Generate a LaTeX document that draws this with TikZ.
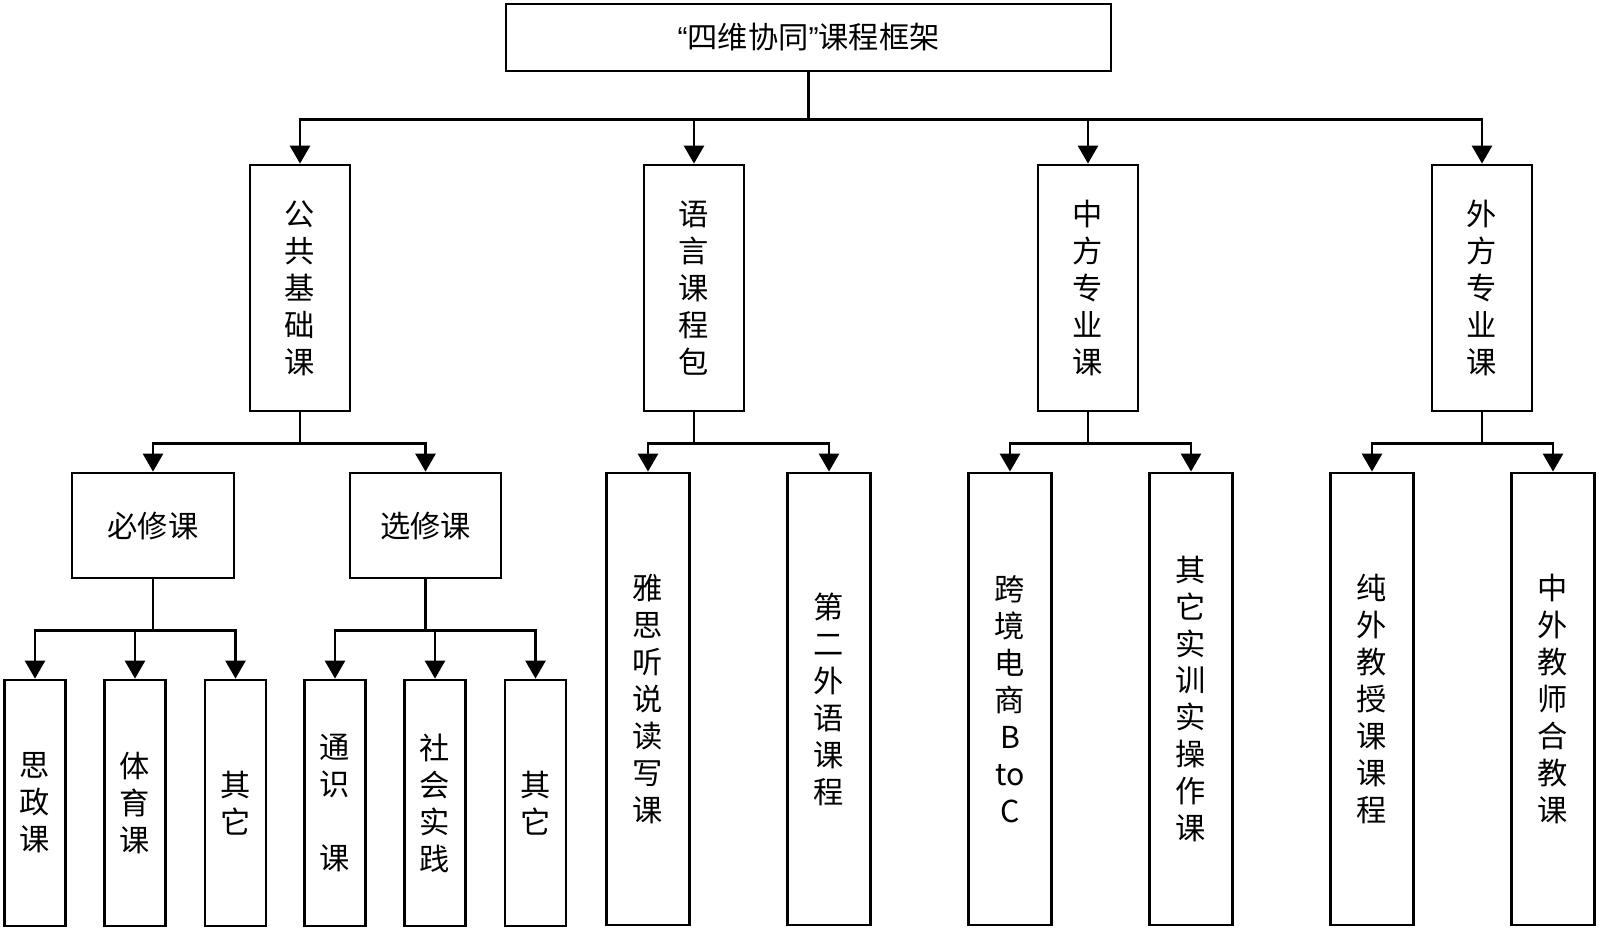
\documentclass[tikz,border=0pt]{standalone}
\usepackage{fontspec}
\setmainfont{Noto Sans CJK SC}
\newfontfamily\quotefont{Liberation Sans}
\usetikzlibrary{arrows.meta}
\begin{document}
\begin{tikzpicture}[x=0.025cm,y=-0.025cm,
  box/.style={draw,line width=1.9pt,inner sep=0pt,align=center,font=\fontsize{21.5}{26.3}\selectfont},
  arr/.style={line width=1.9pt,-{Triangle[width=0.5cm,length=0.45cm]}}]
\useasboundingbox (0,0) rectangle (1600,931);
% top
\node[box,minimum width=15.125cm,minimum height=1.675cm] (frame) at (808.5,37.5) {{\quotefont “}四维协同{\quotefont ”}课程框架};
% second row
\node[box,minimum width=2.5cm,minimum height=6.15cm] (pub) at (300,288) {公\\共\\基\\础\\课};
\node[box,minimum width=2.5cm,minimum height=6.15cm] (lang) at (694,288) {语\\言\\课\\程\\包};
\node[box,minimum width=2.5cm,minimum height=6.15cm] (cnmaj) at (1088,288) {中\\方\\专\\业\\课};
\node[box,minimum width=2.5cm,minimum height=6.15cm] (fgmaj) at (1482,288) {外\\方\\专\\业\\课};
% third row
\node[box,minimum width=4.05cm,minimum height=2.625cm] (req) at (153,525.5) {必修课};
\node[box,minimum width=3.775cm,minimum height=2.625cm] (ele) at (425.5,525.5) {选修课};
\node[box,minimum width=2.075cm,minimum height=11.3cm] (ielts) at (648,699) {雅\\思\\听\\说\\读\\写\\课};
\node[box,minimum width=2.075cm,minimum height=11.3cm] (lang2) at (829,699) {第\\二\\外\\语\\课\\程};
\node[box,minimum width=2.075cm,minimum height=11.3cm] (cbec) at (1010,699) {跨\\境\\电\\商\\B\\to\\C};
\node[box,minimum width=2.075cm,minimum height=11.3cm] (prac) at (1191,699) {其\\它\\实\\训\\实\\操\\作\\课};
\node[box,minimum width=2.075cm,minimum height=11.3cm] (fgteach) at (1372,699) {纯\\外\\教\\授\\课\\课\\程};
\node[box,minimum width=2.075cm,minimum height=11.3cm] (coteach) at (1553,699) {中\\外\\教\\师\\合\\教\\课};
% fourth row
\node[box,minimum width=1.525cm,minimum height=6.15cm] (sz) at (35,803) {思\\政\\课};
\node[box,minimum width=1.525cm,minimum height=6.15cm] (pe) at (135,803) {体\\育\\课};
\node[box,minimum width=1.525cm,minimum height=6.15cm] (oth1) at (235.5,803) {其\\它};
\node[box,minimum width=1.525cm,minimum height=6.15cm] (gen) at (335,803) {通\\识\\\mbox{}\\课};
\node[box,minimum width=1.525cm,minimum height=6.15cm] (soc) at (435,803) {社\\会\\实\\践};
\node[box,minimum width=1.525cm,minimum height=6.15cm] (oth2) at (535.5,803) {其\\它};
% arrows
\draw[arr] (frame.south) -- ++(0,47) -| (pub.north);
\draw[arr] (frame.south) -- ++(0,47) -| (lang.north);
\draw[arr] (frame.south) -- ++(0,47) -| (cnmaj.north);
\draw[arr] (frame.south) -- ++(0,47) -| (fgmaj.north);
\draw[arr] (pub.south) -- ++(0,31) -| (req.north);
\draw[arr] (pub.south) -- ++(0,31) -| (ele.north);
\draw[arr] (lang.south) -- ++(0,31) -| (ielts.north);
\draw[arr] (lang.south) -- ++(0,31) -| (lang2.north);
\draw[arr] (cnmaj.south) -- ++(0,31) -| (cbec.north);
\draw[arr] (cnmaj.south) -- ++(0,31) -| (prac.north);
\draw[arr] (fgmaj.south) -- ++(0,31) -| (fgteach.north);
\draw[arr] (fgmaj.south) -- ++(0,31) -| (coteach.north);
\draw[arr] (req.south) -- ++(0,51) -| (sz.north);
\draw[arr] (req.south) -- ++(0,51) -| (pe.north);
\draw[arr] (req.south) -- ++(0,51) -| (oth1.north);
\draw[arr] (ele.south) -- ++(0,51) -| (gen.north);
\draw[arr] (ele.south) -- ++(0,51) -| (soc.north);
\draw[arr] (ele.south) -- ++(0,51) -| (oth2.north);
\end{tikzpicture}
\end{document}
